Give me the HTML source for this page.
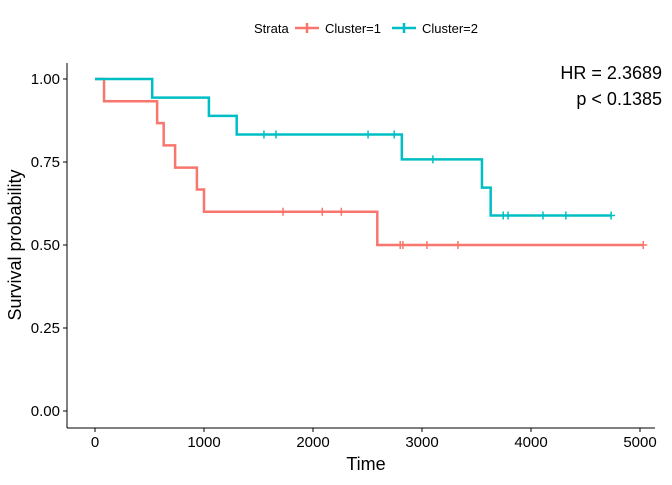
<!DOCTYPE html>
<html><head><meta charset="utf-8"><style>
body{margin:0;background:#fff;font-family:"Liberation Sans",Arial,sans-serif}
svg text{font-family:"Liberation Sans",Arial,sans-serif}
</style></head><body>
<svg id="chart" width="672" height="480">
</svg>
<script>
const xTicks=[0,1000,2000,3000,4000,5000];
const yTicks=[0,0.25,0.5,0.75,1];
const yTickLabels=["0.00","0.25","0.50","0.75","1.00"];
const c1Times=[0,83,570,630,735,935,1000,2590,5030];
const c1Surv=[1,0.933,0.867,0.8,0.733,0.667,0.6,0.5,0.5];
const c1Censor=[1725,2085,2260,2800,2825,3045,3330,5030];
const c2Times=[0,525,1045,1300,2815,3550,3630,4735];
const c2Surv=[1,0.944,0.889,0.833,0.758,0.673,0.589,0.589];
const c2Censor=[1550,1660,2505,2745,3100,3745,3790,4110,4320,4735];
const NS="http://www.w3.org/2000/svg";
const svg=document.getElementById('chart');
const X=t=>95+t*0.109;
const Y=s=>411-s*332;
function mk(tag,attrs,parent){const e=document.createElementNS(NS,tag);for(const k in attrs)e.setAttribute(k,attrs[k]);(parent||svg).appendChild(e);return e;}
function txt(x,y,s,size,anchor){const e=mk('text',{x:x,y:y,'font-size':size,'text-anchor':anchor||'middle',fill:'#000'});e.textContent=s;return e;}
// axes
let ax=mk('line',{x1:67,y1:428,x2:655,y2:428,stroke:'#000','stroke-width':1});


let ay=mk('line',{x1:67,y1:63,x2:67,y2:428,stroke:'#000','stroke-width':1});


xTicks.forEach(t=>{mk('line',{x1:X(t),y1:428,x2:X(t),y2:432,stroke:'#000'});
 const l=txt(X(t),447,String(t),15);
 
 });
yTicks.forEach((v,i)=>{mk('line',{x1:63,y1:Y(v),x2:67,y2:Y(v),stroke:'#000'});
 const l=txt(60,Y(v)+5,yTickLabels[i],15,'end');
 
 });
let xt=txt(366,470,'Time',18);


let yt=txt(0,0,'Survival probability',18);
yt.setAttribute('transform','translate(21,245) rotate(-90)');


function curve(times,surv,cens,color,name){
 let d='M'+X(times[0])+','+Y(surv[0]);
 for(let i=1;i<times.length;i++){d+=' H'+X(times[i])+' V'+Y(surv[i]);}
 const p=mk('path',{d:d,fill:'none',stroke:color,'stroke-width':2.5});
 
 
 cens.forEach(t=>{let s=surv[0];for(let i=0;i<times.length;i++)if(times[i]<=t)s=surv[i];
  const m=mk('path',{d:`M${X(t)-4},${Y(s)} H${X(t)+4} M${X(t)},${Y(s)-4} V${Y(s)+4}`,stroke:color,'stroke-width':1.5});
  
  });
}
curve(c1Times,c1Surv,c1Censor,'#F8766D','cluster1');
curve(c2Times,c2Surv,c2Censor,'#00BFC4','cluster2');
let hr=txt(662,79,'HR = 2.3689',18,'end');


let pv=txt(662,105,'p < 0.1385',18,'end');


// legend
let lg=txt(254,33,'Strata',13,'start');


[[295,'#F8766D','Cluster=1'],[392,'#00BFC4','Cluster=2']].forEach(([x,c,l],i)=>{
 mk('path',{d:`M${x},28 H${x+24} M${x+12},23 V33`,stroke:c,'stroke-width':2.5});
 const t=txt(x+30,33,l,13,'start');
 
 
});
</script>
</body></html>
